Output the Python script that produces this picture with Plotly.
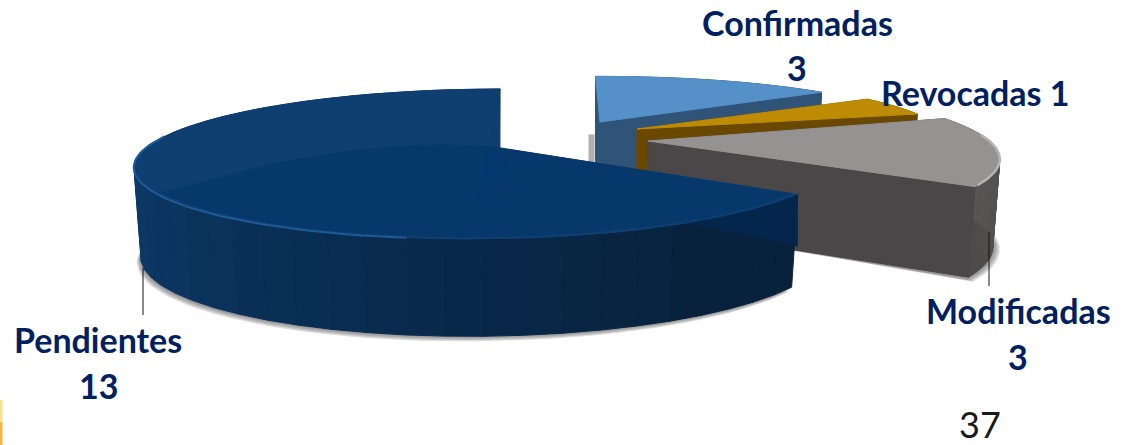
import math
import plotly.graph_objects as go

categories = ["Confirmadas", "Revocadas", "Modificadas", "Pendientes"]
values = [3, 1, 3, 13]
total_label = "37"

NAVY = "#002060"
K = 0.24
A = 345.0
B = 70.7
START = 90.0

# drawing order counter-clockwise from START
ccw_order = ["Pendientes", "Modificadas", "Revocadas", "Confirmadas"]
geom = {
    "Pendientes": dict(ax=488, ay=146, sa=0.985, sb=1.0, r=1.0, C=15, shift=0, depth=88, top="#0f3f70",
                       wall=[(90, (16, 62, 108)), (180, (16, 62, 108)), (225, (11, 52, 94)), (265, (9, 42, 76)),
                             (300, (8, 34, 62)), (331, (10, 34, 60))], face="#0a2c52"),
    "Modificadas": dict(ax=648, ay=141, sa=0.99, sb=1.0, r=1.0, C=0, shift=2, depth=86, top="#969292",
                        wall=[(-40, (78, 74, 74)), (25, (92, 90, 90))], face="#4b4648"),
    "Revocadas": dict(ax=637, ay=129, sa=1.03, sb=1.0, r=0.86, C=0, shift=-3, depth=88, top="#bd8c04",
                      wall=[(0, (110, 75, 0)), (60, (110, 75, 0))], face="#6a4800"),
    "Confirmadas": dict(ax=600, ay=122, sa=0.92, sb=0.8, r=1.0, C=0, shift=1, depth=88, top="#5690c8",
                        wall=[(30, (50, 85, 125)), (100, (50, 85, 125))], face="#2f5478"),
}

val = dict(zip(categories, values))
tot = sum(values)
spans = {}
a = START
for name in ccw_order:
    sw = val[name] / tot * 360.0
    offset = 360 if a > 300 else 0
    spans[name] = (a - offset, a + sw - offset)
    a += sw


def top_pt(t, g, r=None):
    r = g["r"] if r is None else r
    c, s = math.cos(math.radians(t)), math.sin(math.radians(t))
    w = 1 + K * r * s
    x = g["ax"] + (A * g["sa"] * r * c + g["C"] * r * s) / w
    y = g["ay"] - B * g["sb"] * r * s / w
    return x, y


def base_pt(p, g):
    x, y = p
    return g["ax"] + (x - g["ax"]) * 0.98, y + g["depth"] + (y - g["ay"]) * 0.1


def colour_at(t, stops):
    if t <= stops[0][0]:
        return stops[0][1]
    for (t0, c0), (t1, c1) in zip(stops, stops[1:]):
        if t <= t1:
            f = (t - t0) / (t1 - t0)
            return tuple(c0[i] + f * (c1[i] - c0[i]) for i in range(3))
    return stops[-1][1]


fig = go.Figure()


def poly(pts, colour, width=1.0):
    xs = [p[0] for p in pts] + [pts[0][0]]
    ys = [p[1] for p in pts] + [pts[0][1]]
    fig.add_trace(go.Scatter(x=xs, y=ys, mode="lines", fill="toself", fillcolor=colour,
                             line=dict(color=colour, width=width), hoverinfo="skip", showlegend=False))


def curve(pts, colour, width):
    fig.add_trace(go.Scatter(x=[p[0] for p in pts], y=[p[1] for p in pts], mode="lines",
                             line=dict(color=colour, width=width), hoverinfo="skip", showlegend=False))


def arc(t0, t1, g, r=None, n=60):
    return [top_pt(t0 + (t1 - t0) * i / n, g, r) for i in range(n + 1)]


def shadow(name, t0, t1, dx, dy, layers=4):
    g = geom[name]
    for j in range(layers):
        pts = [base_pt(p, g) for p in arc(t0, t1, g)]
        off = (layers - j) / layers
        outer = [(x + dx * off, y + dy * off) for x, y in pts]
        poly(outer + [(g["ax"] + dx, g["ay"] + g["depth"])], "rgba(90,90,90,0.22)", 0)


def draw_slice(name):
    g = geom[name]
    t0, t1 = spans[name]
    t0 += g["shift"]
    t1 += g["shift"]
    apex = (g["ax"], g["ay"])
    apex_b = base_pt(apex, g)
    # outer wall strips
    n = 45
    for i in range(n):
        ta, tb = t0 + (t1 - t0) * i / n, t0 + (t1 - t0) * (i + 1) / n
        pa, pb = top_pt(ta, g), top_pt(tb, g)
        col = colour_at((ta + tb) / 2, g["wall"])
        poly([pa, pb, base_pt(pb, g), base_pt(pa, g)], "rgb(%d,%d,%d)" % col)
    # cut faces, far one first
    if name != "Pendientes":
        for t in (t1, t0):
            p = top_pt(t, g)
            poly([apex, p, base_pt(p, g), apex_b], g["face"])
    # top face
    poly(arc(t0, t1, g) + [apex], g["top"])
    return t0, t1


# Back to front
gc = geom["Confirmadas"]
cx, cy = top_pt(spans["Confirmadas"][1] + gc["shift"], gc)
curve([(cx - 4, cy + 58), (cx - 4, cy + 86)], "rgba(110,110,110,0.55)", 6)
draw_slice("Confirmadas")
draw_slice("Revocadas")
shadow("Modificadas", -35, 5, 7, 3)
draw_slice("Modificadas")
shadow("Pendientes", 175, 324, -4, 5)
t0, t1 = draw_slice("Pendientes")

# Pendientes: inner sheen, crease, rim and dark bevel, all following its own arc
g = geom["Pendientes"]
apex = (g["ax"], g["ay"])
edge = [top_pt(215 - 45 * i / 12, g, 1.0 - 0.88 * (i / 12) ** 0.7) for i in range(1, 13)]
poly(arc(215, t1, g, 0.985) + [apex] + list(reversed(edge)), "#07386b", 0)
poly([apex, top_pt(270, g, 0.62), top_pt(283, g, 0.35)], "#03386f", 0)
curve(arc(172, 262, g, 1.0), "#1d5a96", 2)
band = arc(300, t1, g)
n_band = len(band) - 1
lower = [(x, y + 52 * i / n_band) for i, (x, y) in enumerate(band)]
poly(band + list(reversed(lower)), "#04264c", 0)

# Modificadas rim
gm = geom["Modificadas"]
curve(arc(-33, 5, gm), "#b8b4b4", 2.5)

# Leader lines
for xs, ys in (([143, 143], [268, 315]), ([989, 989], [232, 286])):
    curve(list(zip(xs, ys)), "#111111", 1)

label_font = dict(family="Lato, Carlito, sans-serif", size=34, color=NAVY, weight="bold")
anns = [
    (797, 22, categories[0]), (797, 67, str(values[0])),
    (975, 92, f"{categories[1]} {values[1]}"),
    (1018, 310, categories[2]), (1018, 356, str(values[2])),
    (98, 339, categories[3]), (98, 385, str(values[3])),
]
for x, y, t in anns:
    fig.add_annotation(x=x, y=y, text=t, showarrow=False, font=label_font, xanchor="center", yanchor="middle")
fig.add_annotation(x=980, y=424, text=total_label, showarrow=False, xanchor="center", yanchor="middle",
                   font=dict(family="Lato, sans-serif", size=36, color="#1a1a1a"))

fig.update_layout(
    width=1130, height=445, margin=dict(l=0, r=0, t=0, b=0),
    paper_bgcolor="white", plot_bgcolor="white", showlegend=False,
    xaxis=dict(range=[0, 1130], visible=False, fixedrange=True),
    yaxis=dict(range=[445, 0], visible=False, fixedrange=True),
    shapes=[
        dict(type="rect", x0=0, x1=2.5, y0=400, y1=422, fillcolor="#fbe08a", line_width=0, layer="above"),
        dict(type="rect", x0=0, x1=2.5, y0=422, y1=445, fillcolor="#f7b440", line_width=0, layer="above"),
    ],
)
fig.write_html("out.html", config={"displayModeBar": False}, post_script="document.body.style.margin='0';")
